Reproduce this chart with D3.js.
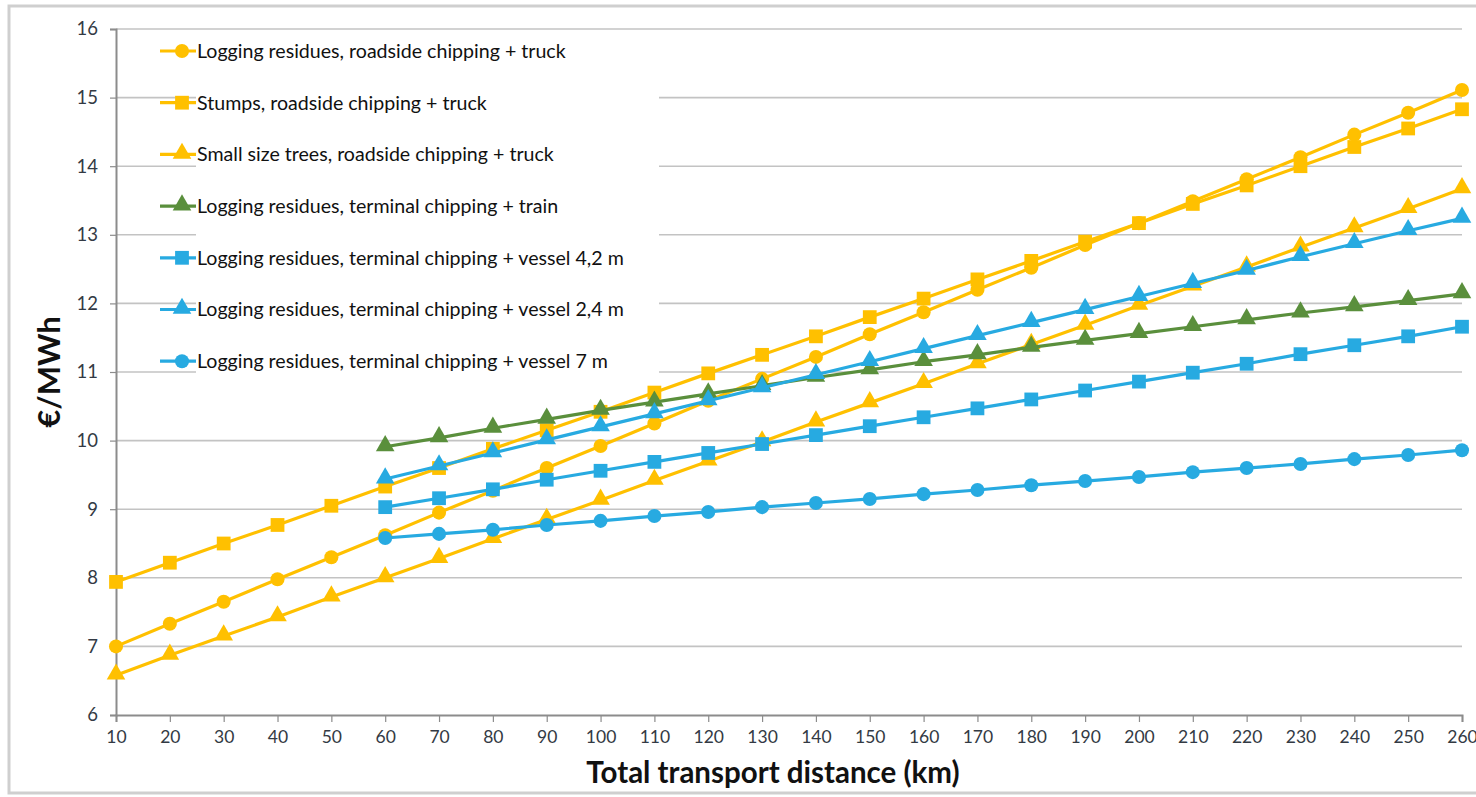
<!DOCTYPE html>
<html><head><meta charset="utf-8">
<script src="https://cdn.jsdelivr.net/npm/d3@7"></script>
<style>
html,body{margin:0;padding:0;background:#fff;}
svg{display:block;}
text{font-family:Lato,"Open Sans",sans-serif;}
</style></head>
<body>
<svg id="c" width="1476" height="797"></svg>
<script>
const distances = [10,20,30,40,50,60,70,80,90,100,110,120,130,140,150,160,170,180,190,200,210,220,230,240,250,260];
const distancesTerminal = [60,70,80,90,100,110,120,130,140,150,160,170,180,190,200,210,220,230,240,250,260];
const yTicks = [6,7,8,9,10,11,12,13,14,15,16];

const seriesNames = [
  "Logging residues, roadside chipping + truck",
  "Stumps, roadside chipping + truck",
  "Small size trees, roadside chipping + truck",
  "Logging residues, terminal chipping + train",
  "Logging residues, terminal chipping + vessel 4,2 m",
  "Logging residues, terminal chipping + vessel 2,4 m",
  "Logging residues, terminal chipping + vessel 7 m"
];
const residuesTruck = [7.00,7.33,7.65,7.98,8.30,8.62,8.95,9.27,9.60,9.92,10.25,10.58,10.90,11.22,11.55,11.87,12.20,12.52,12.85,13.17,13.49,13.81,14.13,14.46,14.78,15.11];
const stumpsTruck = [7.94,8.22,8.50,8.77,9.05,9.33,9.60,9.88,10.15,10.42,10.70,10.98,11.25,11.52,11.80,12.07,12.35,12.62,12.90,13.17,13.45,13.72,14.00,14.28,14.55,14.83];
const smallTreesTruck = [6.58,6.87,7.15,7.43,7.72,8.00,8.28,8.57,8.85,9.13,9.42,9.70,9.98,10.27,10.55,10.83,11.12,11.40,11.68,11.97,12.25,12.53,12.82,13.10,13.38,13.67];
const residuesTrain = [9.91,10.04,10.18,10.31,10.44,10.56,10.68,10.80,10.92,11.03,11.15,11.25,11.36,11.46,11.56,11.66,11.76,11.86,11.95,12.04,12.14];
const residuesVessel42 = [9.03,9.16,9.29,9.43,9.56,9.69,9.82,9.95,10.08,10.21,10.34,10.47,10.60,10.73,10.86,10.99,11.12,11.26,11.39,11.52,11.66];
const residuesVessel24 = [9.44,9.63,9.82,10.01,10.20,10.39,10.58,10.77,10.96,11.15,11.34,11.53,11.72,11.91,12.10,12.29,12.48,12.68,12.87,13.06,13.24];
const residuesVessel7 = [8.58,8.64,8.70,8.77,8.83,8.90,8.96,9.03,9.09,9.15,9.22,9.28,9.35,9.41,9.47,9.54,9.60,9.66,9.73,9.79,9.86];

const YELLOW = "#FFC000", GREEN = "#5A8F3C", BLUE = "#27AAE1";
const series = [
  {name: seriesNames[0], xs: distances, ys: residuesTruck, color: YELLOW, sym: "circle"},
  {name: seriesNames[1], xs: distances, ys: stumpsTruck, color: YELLOW, sym: "square"},
  {name: seriesNames[2], xs: distances, ys: smallTreesTruck, color: YELLOW, sym: "triangle"},
  {name: seriesNames[3], xs: distancesTerminal, ys: residuesTrain, color: GREEN, sym: "triangle"},
  {name: seriesNames[4], xs: distancesTerminal, ys: residuesVessel42, color: BLUE, sym: "square"},
  {name: seriesNames[5], xs: distancesTerminal, ys: residuesVessel24, color: BLUE, sym: "triangle"},
  {name: seriesNames[6], xs: distancesTerminal, ys: residuesVessel7, color: BLUE, sym: "circle"}
];

const svg = d3.select("#c");
// outer frame
svg.append("rect").attr("x",9).attr("y",6).attr("width",1480).attr("height",787)
  .attr("fill","none").attr("stroke","#CFCFCF").attr("stroke-width",3);

const mLeft = 116, mRight = 1462, mTop = 29, mBottom = 715;
const x = d3.scaleLinear().domain([10,260]).range([mLeft,mRight]);
const y = d3.scaleLinear().domain([6,16]).range([mBottom,mTop]);

// gridlines
svg.append("g").selectAll("line").data(yTicks.filter(d=>d>6)).join("line")
  .attr("x1",mLeft).attr("x2",mRight).attr("y1",d=>y(d)).attr("y2",d=>y(d))
  .attr("stroke","#C3C3C3").attr("stroke-width",1.6);

// legend background (covers gridlines behind text)
svg.append("rect").attr("x",196).attr("y",36).attr("width",463).attr("height",348).attr("fill","#fff");

// axes
const yAxis = svg.append("g").attr("transform",`translate(${mLeft},0)`)
  .call(d3.axisLeft(y).tickValues(yTicks).tickSize(6).tickPadding(12));
const xAxis = svg.append("g").attr("transform",`translate(0,${mBottom})`)
  .call(d3.axisBottom(x).tickValues(distances).tickSize(7).tickPadding(9));
[yAxis,xAxis].forEach(a=>{
  a.select(".domain").attr("stroke","#8C8C8C").attr("stroke-width",2);
  a.selectAll(".tick line").attr("stroke","#8C8C8C").attr("stroke-width",1.2);
  a.selectAll(".tick text").attr("fill","#333A44").style("font-family","Lato, sans-serif");
});
yAxis.selectAll(".tick text").attr("font-size",18.5);
xAxis.selectAll(".tick text").attr("font-size",17.5);

const symSize = {circle: 155, square: 190, triangle: 150};
const symType = {circle: d3.symbolCircle, square: d3.symbolSquare, triangle: d3.symbolTriangle};
const line = d3.line().x(d=>x(d[0])).y(d=>y(d[1]));

series.forEach(s=>{
  const pts = s.xs.map((d,i)=>[d,s.ys[i]]);
  const g = svg.append("g");
  g.append("path").datum(pts).attr("d",line).attr("fill","none")
    .attr("stroke",s.color).attr("stroke-width",3.2).attr("stroke-linejoin","round");
  g.selectAll("path.m").data(pts).join("path").attr("class","m")
    .attr("transform",d=>`translate(${x(d[0])},${y(d[1]) + (s.sym==="triangle"?-1:0)})`)
    .attr("d",d3.symbol().type(symType[s.sym]).size(symSize[s.sym]))
    .attr("fill",s.color);
});

// legend
const legY0 = 51, legDy = 51.7;
series.forEach((s,i)=>{
  const ly = legY0 + i*legDy;
  svg.append("line").attr("x1",160).attr("x2",196).attr("y1",ly).attr("y2",ly)
    .attr("stroke",s.color).attr("stroke-width",3.2);
  svg.append("path").attr("transform",`translate(182,${ly + (s.sym==="triangle"?-1:0)})`)
    .attr("d",d3.symbol().type(symType[s.sym]).size(symSize[s.sym])).attr("fill",s.color);
  svg.append("text").attr("x",197).attr("y",ly).attr("dy","0.35em")
    .attr("font-size",19.6).attr("fill","#111").text(s.name);
});

// axis titles
svg.append("text").attr("transform","translate(60,372) rotate(-90)")
  .attr("text-anchor","middle").attr("font-size",31).attr("font-weight","bold")
  .attr("fill","#111").text("€/MWh");
svg.append("text").attr("x",773).attr("y",783)
  .attr("text-anchor","middle").attr("font-size",29.5).attr("font-weight","bold")
  .attr("fill","#111").text("Total transport distance (km)");
</script>
</body></html>
